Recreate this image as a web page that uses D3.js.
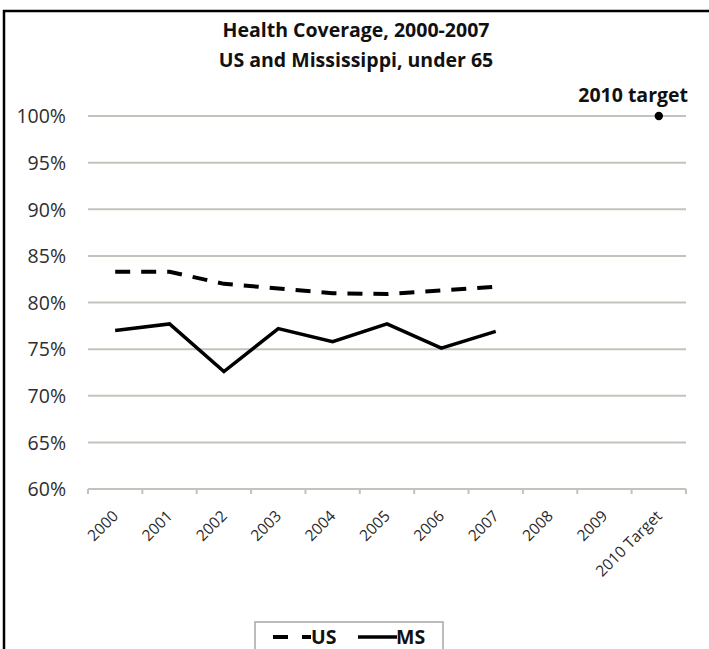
<!DOCTYPE html>
<html>
<head>
<meta charset="utf-8">
<script src="https://cdn.jsdelivr.net/npm/d3@7"></script>
<style>
  html, body { margin: 0; padding: 0; background: #fff; }
  svg { display: block; }
</style>
</head>
<body>
<svg id="chart" width="709" height="649"></svg>
<script>
const categories = ["2000","2001","2002","2003","2004","2005","2006","2007","2008","2009","2010 Target"];
const usYears = ["2000","2001","2002","2003","2004","2005","2006","2007"];
const usValues = [83.3, 83.3, 82.0, 81.5, 81.0, 80.9, 81.3, 81.7];
const msValues = [77.0, 77.7, 72.6, 77.2, 75.8, 77.7, 75.1, 76.9];
const targetCategory = "2010 Target";
const targetValue = 100;
const yTicks = [60, 65, 70, 75, 80, 85, 90, 95, 100];
const titleLines = ["Health Coverage, 2000-2007", "US and Mississippi, under 65"];
const seriesNames = ["US", "MS"];

const svg = d3.select("#chart");
const font = "'Open Sans', 'Noto Sans', sans-serif";
const gridColor = "#c2c4bb";

const x = d3.scaleBand().domain(categories).range([88, 686]).padding(0);
const y = d3.scaleLinear().domain([60, 100]).range([489, 116]);

// outer frame (left and top edges visible)
svg.append("path")
  .attr("d", "M4,649 L4,11 L709,11")
  .attr("fill", "none").attr("stroke", "#000").attr("stroke-width", 2.5);

// gridlines
svg.append("g").selectAll("line").data(yTicks.filter(d => d !== 60)).join("line")
  .attr("x1", x.range()[0]).attr("x2", x.range()[1])
  .attr("y1", d => y(d)).attr("y2", d => y(d))
  .attr("stroke", gridColor).attr("stroke-width", 2);

// y axis labels
const yAxis = d3.axisLeft(y).tickValues(yTicks).tickSize(0).tickPadding(0)
  .tickFormat(d => d + "%");
const gy = svg.append("g").attr("transform", "translate(66,0)").call(yAxis);
gy.select(".domain").remove();
gy.selectAll("text").attr("font-family", font).attr("font-size", 19.5)
  .attr("fill", "#2e2e2e").attr("dy", "0.35em");

// x axis line + ticks at band boundaries
const boundaries = categories.map(c => x(c)).concat([x.range()[1]]);
const gx = svg.append("g");
gx.append("line").attr("x1", x.range()[0]).attr("x2", x.range()[1])
  .attr("y1", y(60)).attr("y2", y(60)).attr("stroke", gridColor).attr("stroke-width", 2);
gx.selectAll("line.tick").data(boundaries).join("line").attr("class", "tick")
  .attr("x1", d => d).attr("x2", d => d)
  .attr("y1", y(60)).attr("y2", y(60) + 5)
  .attr("stroke", gridColor).attr("stroke-width", 2);

// x labels rotated
const xAxis = d3.axisBottom(x).tickSize(0).tickPadding(0);
const gxl = svg.append("g").attr("transform", "translate(0," + y(60) + ")").call(xAxis);
gxl.select(".domain").remove();
gxl.selectAll(".tick text")
  .attr("font-family", font).attr("font-size", 15.5).attr("fill", "#2a2a2a")
  .attr("text-anchor", "end").attr("dy", null).attr("y", null)
  .attr("transform", "translate(4,28) rotate(-45)");

// lines
const line = d3.line().x(d => x(d[0]) + x.bandwidth() / 2).y(d => y(d[1]));
svg.append("path").datum(usYears.map((c, i) => [c, usValues[i]]))
  .attr("d", line).attr("fill", "none").attr("stroke", "#000")
  .attr("stroke-width", 4).attr("stroke-dasharray", "15,11");
svg.append("path").datum(usYears.map((c, i) => [c, msValues[i]]))
  .attr("d", line).attr("fill", "none").attr("stroke", "#000")
  .attr("stroke-width", 3.5).attr("stroke-linejoin", "miter");

// target dot
const tx = x(targetCategory) + x.bandwidth() / 2;
svg.append("circle").attr("cx", tx).attr("cy", y(targetValue)).attr("r", 4.2).attr("fill", "#000");
svg.append("text").attr("x", 688).attr("y", 102).attr("text-anchor", "end")
  .attr("font-family", font).attr("font-weight", "bold").attr("font-size", 19.5)
  .attr("fill", "#111").text("2010 target");

// title
svg.append("g").selectAll("text").data(titleLines).join("text")
  .attr("x", 356).attr("y", (d, i) => 37 + i * 30)
  .attr("text-anchor", "middle").attr("font-family", font)
  .attr("font-weight", "bold").attr("font-size", 19.5).attr("fill", "#111")
  .text(d => d);

// legend
const lg = svg.append("g");
lg.append("rect").attr("x", 255).attr("y", 622).attr("width", 188).attr("height", 40)
  .attr("fill", "#fff").attr("stroke", "#a6a6a6").attr("stroke-width", 1.5);
lg.append("line").attr("x1", 273).attr("x2", 311).attr("y1", 637).attr("y2", 637)
  .attr("stroke", "#000").attr("stroke-width", 4).attr("stroke-dasharray", "15,14");
lg.append("text").attr("x", 311).attr("y", 644).attr("font-family", font)
  .attr("font-weight", "bold").attr("font-size", 19.5).attr("fill", "#111").text(seriesNames[0]);
lg.append("line").attr("x1", 358).attr("x2", 397).attr("y1", 637).attr("y2", 637)
  .attr("stroke", "#000").attr("stroke-width", 3.5);
lg.append("text").attr("x", 396).attr("y", 644).attr("font-family", font)
  .attr("font-weight", "bold").attr("font-size", 19.5).attr("fill", "#111").text(seriesNames[1]);
</script>
</body>
</html>
